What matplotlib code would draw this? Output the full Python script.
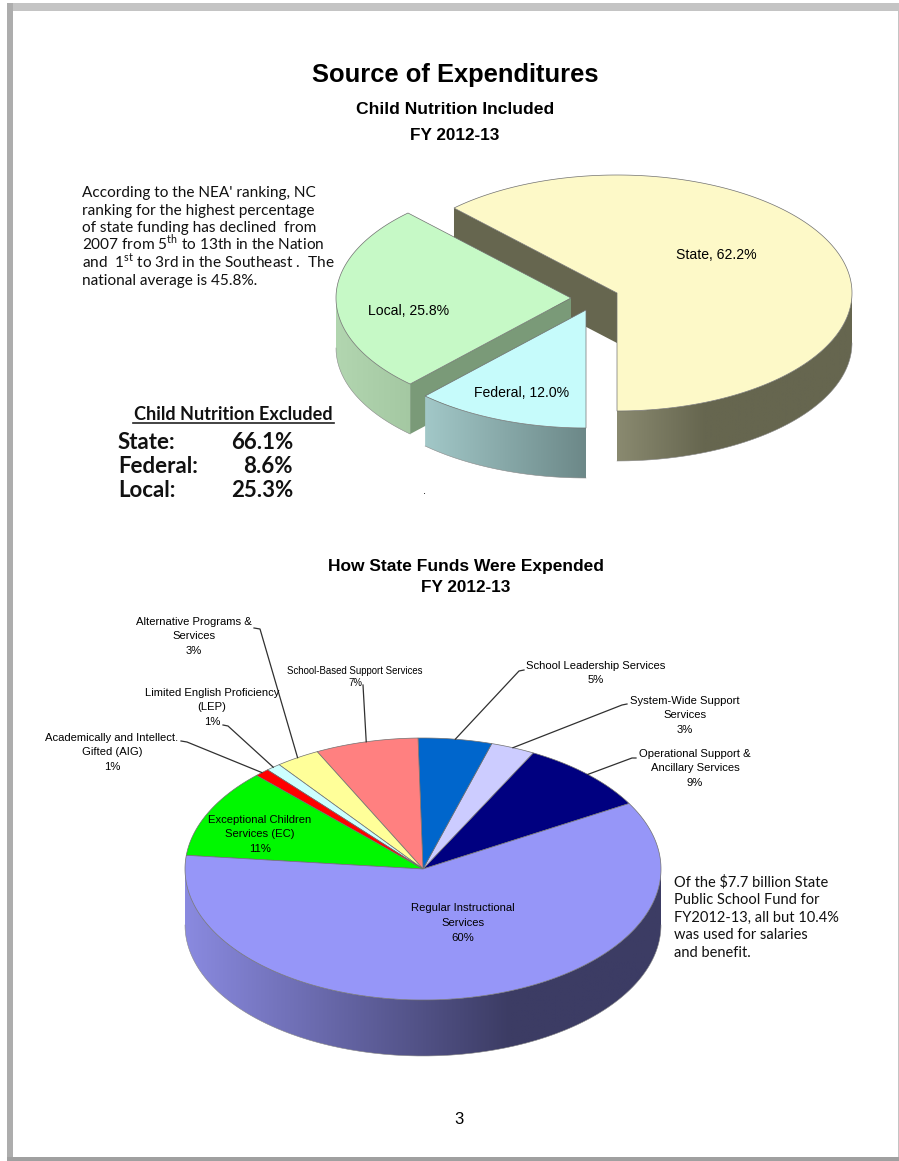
import numpy as np
import matplotlib
matplotlib.use('Agg')
import matplotlib.pyplot as plt
from matplotlib.patches import Rectangle, Polygon
from matplotlib.colors import to_rgb

plt.rcParams['mathtext.fontset'] = 'custom'
plt.rcParams['mathtext.rm'] = 'Lato'

# source of expenditures
src_names = ['State', 'Local', 'Federal']
src_values = [62.2, 25.8, 12.0]
src_colors = ['#fdf9c8', '#c6f9c6', '#c6fbfb']

# child nutrition excluded
excl_names = ['State:', 'Federal:', 'Local:']
excl_values = ['66.1%', '8.6%', '25.3%']

# how state funds were expended, anticlockwise from the right
fund_names = ['Operational Support &\nAncillary Services', 'System-Wide Support\nServices',
              'School Leadership Services', 'School-Based Support Services',
              'Alternative Programs &\nServices', 'Limited English Proficiency\n(LEP)',
              'Academically and Intellect.\nGifted (AIG)', 'Exceptional Children\nServices (EC)',
              'Regular Instructional\nServices']
fund_values = [9, 3, 5, 7, 3, 1, 1, 11, 60]
fund_colors = ['#000080', '#ccccff', '#0066cc', '#ff8080', '#ffff99', '#ccffff', '#ff0000', '#00f800', '#9696f8']

note_left = ["According to the NEA' ranking, NC",
             'ranking for the highest percentage',
             'of state funding has declined  from',
             '2007 from 5$^{\\mathrm{th}}$ to 13th in the Nation',
             'and  1$^{\\mathrm{st}}$ to 3rd in the Southeast .  The',
             'national average is 45.8%.']
note_right = ['Of the \\$7.7 billion State',
              'Public School Fund for',
              'FY2012-13, all but 10.4%',
              'was used for salaries',
              'and benefit.']

EDGE = '#707070'
fig = plt.figure(figsize=(8.99, 11.61), dpi=100)
ax = fig.add_axes([0, 0, 1, 1])
ax.axis('off')

# page frame
ax.add_patch(Rectangle((7, 3), 892, 1158, fc='#c4c4c4', ec='none', zorder=0))
ax.add_patch(Rectangle((7, 3), 5.5, 1158, fc='#adadad', ec='none', zorder=0))
ax.add_patch(Rectangle((7, 1157), 892, 4, fc='#a0a0a0', ec='none', zorder=0))
ax.add_patch(Rectangle((12.5, 11), 885.5, 1146, fc='white', ec='none', zorder=0))


def pt(cx, cy, rx, ry, t):
    t = np.radians(t)
    return np.column_stack([cx + rx * np.cos(t), cy - ry * np.sin(t)])


def angles(values, start):
    v = np.array(values, dtype=float)
    return start + np.concatenate([[0], np.cumsum(v)]) * 360 / v.sum()


def top_face(cx, cy, rx, ry, t0, t1, color, z):
    arc = pt(cx, cy, rx, ry, np.linspace(t0, t1, 200))
    ax.add_patch(Polygon(np.vstack([[cx, cy], arc]), closed=True, fc=color, ec=EDGE, lw=0.5, zorder=z))


def round_wall(cx, cy, rx, ry, depth, t0, t1, c0, c1, z, x1=None):
    # gradient image clipped to the rim band
    arc = pt(cx, cy, rx, ry, np.linspace(t0, t1, 200))
    band = np.vstack([arc, arc[::-1] + [0, depth]])
    x0, x2 = arc[:, 0].min(), arc[:, 0].max()
    x1 = x2 if x1 is None else x1
    f = np.clip((np.linspace(x0, x2, 300) - x0) / (x1 - x0), 0, 1)[None, :, None]
    grad = np.array(to_rgb(c0))[None, None, :] * (1 - f) + np.array(to_rgb(c1))[None, None, :] * f
    clip = Polygon(band, closed=True, fc='none', ec='none', transform=ax.transData)
    im = ax.imshow(grad, extent=(x0, x2, arc[:, 1].max() + depth, arc[:, 1].min()), aspect='auto', zorder=z)
    im.set_clip_path(clip)
    ax.plot(arc[:, 0], arc[:, 1] + depth, color='#8a8a8a', lw=0.4, zorder=z)


def cut_wall(p, q, depth, color, z):
    ax.add_patch(Polygon([p, q, q + [0, depth], p + [0, depth]], closed=True, fc=color, ec='none', zorder=z))


def lines(x, y, pitch, rows, va='center', **kw):
    for i, row in enumerate(rows):
        ax.text(x, y + i * pitch, row, va=va, zorder=10, **kw)


# upper pie
RX, RY, D = 235, 118, 50
a = angles(src_values, -90)
state_c, local_c, fed_c = (617, 293), (571, 298), (586, 310)

p = pt(*state_c, RX, RY, [a[1]])[0]
cut_wall(p, np.array(state_c, float), D, '#66664f', 1)
round_wall(*state_c, RX, RY, D, a[0], 0, '#8a8a70', '#66664f', 1, x1=705)
top_face(*state_c, RX, RY, a[0], a[1], src_colors[0], 2)

round_wall(*local_c, RX, RY, D, 180, a[2], '#b2d6b0', '#a4c8a2', 3)
p = pt(*local_c, RX, RY, [a[2]])[0]
cut_wall(p, np.array(local_c, float), D, '#7a9a78', 3)
top_face(*local_c, RX, RY, a[1], a[2], src_colors[1], 4)

round_wall(*fed_c, RX, RY, D, a[2], a[3], '#a2c8c8', '#6c8888', 5)
top_face(*fed_c, RX, RY, a[2], a[3], src_colors[2], 6)

arial = dict(family='Liberation Sans', color='black')
for name, v, (x, y) in zip(src_names, src_values, [(716, 255), (409, 311), (522, 393)]):
    ax.text(x, y, '%s, %.1f%%' % (name, v), ha='center', va='center', fontsize=10.1, zorder=10, **arial)

# lower pie
RX2, RY2, D2 = 238, 131, 56
cx2, cy2 = 423, 869
b = angles(fund_values, 30)
round_wall(cx2, cy2, RX2, RY2, D2, 180, 360, '#8a8ae0', '#3c3c64', 1, x1=510)
for i, c in enumerate(fund_colors):
    top_face(cx2, cy2, RX2, RY2, b[i], b[i + 1], c, 2)

# outside labels: x centre, first line y, leader elbow
fund_labels = {0: (695, 754, [(636, 758), (632, 758)]),
               1: (685, 701, [(627, 704), (622, 705)]),
               2: (596, 666, [(524, 670), (519, 671)]),
               3: (355, 671, [(363, 685)]),
               4: (194, 622, [(254, 628), (260, 629)]),
               5: (212, 693, [(223, 725), (228, 726)]),
               6: (112, 738, [(181, 741), (187, 742)])}
for i, (x, y, elbow) in fund_labels.items():
    rows = fund_names[i].split('\n') + ['%d%%' % fund_values[i]]
    size = 6.9 if i == 3 else 8.1
    lines(x, y, 14.4 if i != 3 else 12, rows, ha='center', fontsize=size, **arial)
    end = pt(cx2, cy2, RX2, RY2, [(b[i] + b[i + 1]) / 2])[0]
    path = np.array(elbow + [tuple(end)])
    ax.plot(path[:, 0], path[:, 1], color='#303030', lw=0.9, zorder=9)

lines(260, 820, 14.4, fund_names[7].split('\n') + ['%d%%' % fund_values[7]], ha='center', fontsize=8.1, **arial)
lines(463, 908, 14.8, fund_names[8].split('\n') + ['%d%%' % fund_values[8]], ha='center', fontsize=8.1, **arial)

# headings
bold = dict(family='Liberation Sans', fontweight='bold', color='black', ha='center', va='center')
ax.text(455, 75, 'Source of Expenditures', fontsize=18.4, **bold)
ax.text(455, 109, 'Child Nutrition Included', fontsize=12.6, **bold)
ax.text(455, 135, 'FY 2012-13', fontsize=12.3, **bold)
ax.text(466, 567, 'How State Funds Were Expended', fontsize=12.5, **bold)
ax.text(466, 588, 'FY 2012-13', fontsize=12.3, **bold)
ax.text(459, 1119, '3', family='Liberation Sans', fontsize=12, ha='center', va='center')

# side notes
lato = dict(family='Lato', color='#111111')
lines(82, 197, 17.6, note_left, va='baseline', ha='left', fontsize=11.1, **lato)
lines(674, 886, 17.8, note_right, va='baseline', ha='left', fontsize=10.5, **lato)

ax.text(233.5, 414, 'Child Nutrition Excluded', family='Lato', fontweight='bold', fontsize=13.1,
        ha='center', va='center', color='#111111')
ax.plot([133, 334], [423, 423], color='#222222', lw=1.2)
for i, (n, v) in enumerate(zip(excl_names, excl_values)):
    ax.text(118, 442.5 + i * 24, n, family='Lato', fontweight='bold', fontsize=16, va='center', color='#111111')
    ax.text(293, 442.5 + i * 24, v, family='Lato', fontweight='bold', fontsize=16, va='center', ha='right', color='#111111')
ax.text(424, 491, '.', family='Liberation Sans', fontsize=8, ha='center', va='center')

ax.set_xlim(0, 899)
ax.set_ylim(1161, 0)
fig.savefig('out.png', dpi=100)
